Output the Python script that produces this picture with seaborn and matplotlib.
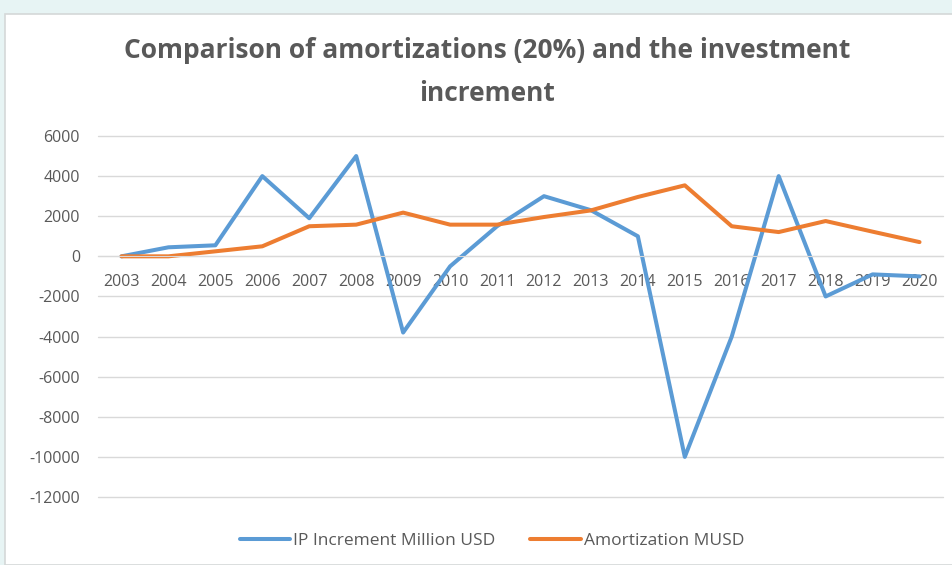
import pandas as pd
import matplotlib.pyplot as plt
import seaborn as sns
from matplotlib import font_manager
from matplotlib.patches import Rectangle

years = [str(y) for y in range(2003, 2021)]
ip_increment = [0, 450, 550, 4000, 1900, 5000, -3800, -500, 1500, 3000,
                2300, 1000, -10000, -4000, 4000, -2000, -900, -1000]
amortization = [0, 0, 250, 500, 1500, 1580, 2180, 1580, 1580, 1960,
                2290, 2960, 3540, 1500, 1210, 1760, 1230, 710]
series_names = ['IP Increment Million USD', 'Amortization MUSD']
y_ticks = list(range(-12000, 6001, 2000))

sns.set_style("white")
available = {f.name for f in font_manager.fontManager.ttflist}
family = 'Liberation Sans Narrow' if 'Liberation Sans Narrow' in available else 'Open Sans'
plt.rcParams['font.family'] = [family, 'DejaVu Sans']
plt.rcParams['axes.unicode_minus'] = False

df = pd.DataFrame({
    'Year': years * 2,
    'Value': ip_increment + amortization,
    'Series': [series_names[0]] * len(years) + [series_names[1]] * len(years),
})

fig = plt.figure(figsize=(9.52, 5.65), dpi=100, facecolor='#e7f4f4')
fig.patches.append(Rectangle((5 / 952, 0), 1, 1 - 14 / 565, transform=fig.transFigure,
                             facecolor='white', edgecolor='#d4d8d8', linewidth=1.2, zorder=-1))
ax = fig.add_axes([98 / 952, 1 - 497 / 565, 845 / 952, 361 / 565])
ax.set_facecolor('none')

sns.lineplot(data=df, x='Year', y='Value', hue='Series', sort=False,
             palette=['#5b9bd5', '#ed7d31'], linewidth=2.9, ax=ax)

ax.set_xlim(-0.5, len(years) - 0.5)
ax.set_ylim(-12000, 6000)
ax.set_yticks(y_ticks)
ax.yaxis.grid(True, color='#d9d9d9', linewidth=1)
for gl in ax.get_ygridlines():
    gl.set_clip_on(False)
ax.set_axisbelow(True)
for s in ['top', 'right', 'left']:
    ax.spines[s].set_visible(False)
ax.spines['bottom'].set_position(('data', 0))
ax.spines['bottom'].set_color('#d9d9d9')
ax.tick_params(axis='x', length=0, pad=13, labelsize=11.5, labelcolor='#595959')
ax.tick_params(axis='y', length=0, pad=13, labelsize=11.5, labelcolor='#595959')
ax.set_xlabel('')
ax.set_ylabel('')

fig.text(0.512, 1 - 72 / 565, 'Comparison of amortizations (20%) and the investment\nincrement',
         ha='center', va='center', fontsize=19, fontweight='bold', color='#595959', linespacing=1.75)

handles, labels = ax.get_legend_handles_labels()
ax.legend(handles, labels, loc='center', bbox_to_anchor=(492 / 952, 1 - 541 / 565),
          bbox_transform=fig.transFigure, ncol=2, frameon=False, fontsize=12.5,
          labelcolor='#595959', handlelength=2.9, handletextpad=0.2, columnspacing=2.0)

fig.savefig('out.png', dpi=100, facecolor=fig.get_facecolor())
